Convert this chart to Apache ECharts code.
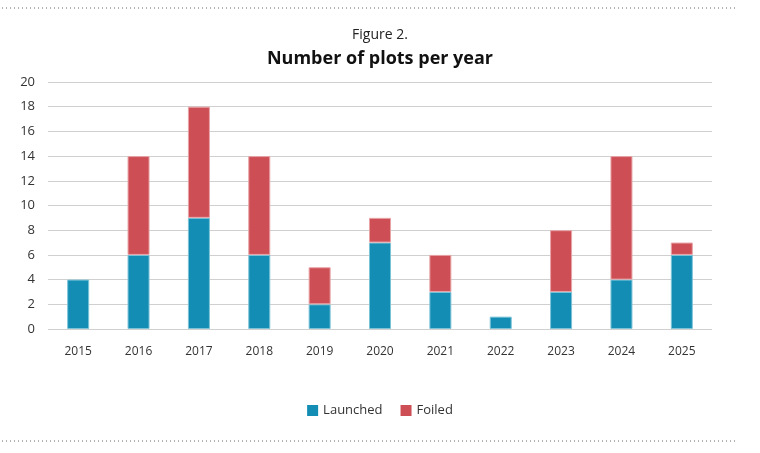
<!DOCTYPE html>
<html>
<head>
<meta charset="utf-8">
<style>
  html, body { margin: 0; padding: 0; background: #fff; }
  #chart { width: 760px; height: 453px; }
</style>
<script src="https://cdn.jsdelivr.net/npm/echarts@6/dist/echarts.min.js"></script>
</head>
<body>
<div id="chart"></div>
<script>
const years = ["2015", "2016", "2017", "2018", "2019", "2020", "2021", "2022", "2023", "2024", "2025"];
const launched = [4, 6, 9, 6, 2, 7, 3, 1, 3, 4, 6];
const foiled = [0, 8, 9, 8, 3, 2, 3, 0, 5, 10, 1];

const font = "'Open Sans', 'Noto Sans', sans-serif";
const chart = echarts.init(document.getElementById("chart"), null, { renderer: "canvas" });

// empty segments should not draw a border line
const noZero = (arr) => arr.map((v) => (v === 0 ? "-" : v));

const option = {
  backgroundColor: "#fff",
  textStyle: { fontFamily: font },
  title: [
    {
      text: "Figure 2.",
      left: "center",
      top: 23,
      textStyle: { fontSize: 14, fontWeight: "normal", color: "#222", fontFamily: font },
    },
    {
      text: "Number of plots per year",
      left: "center",
      top: 45,
      textStyle: { fontSize: 18, fontWeight: "bold", color: "#111", fontFamily: font },
    },
  ],
  legend: {
    bottom: 31,
    left: "center",
    itemWidth: 11,
    itemHeight: 11,
    itemGap: 18,
    icon: "rect",
    itemStyle: { borderWidth: 0 },
    textStyle: { fontSize: 13, color: "#333", fontFamily: font },
    data: ["Launched", "Foiled"],
  },
  grid: { left: 48, right: 48, top: 82, bottom: 124, containLabel: false },
  xAxis: {
    type: "category",
    data: years,
    axisLine: { show: false },
    axisTick: { show: false },
    axisLabel: { color: "#333", fontSize: 12, margin: 17, fontFamily: font },
  },
  yAxis: {
    type: "value",
    min: 0,
    max: 20,
    interval: 2,
    axisLine: { show: false },
    axisTick: { show: false },
    axisLabel: { color: "#333", fontSize: 13, margin: 13, fontFamily: font },
    splitLine: { lineStyle: { color: "#d0d0d0", width: 1 } },
  },
  series: [
    {
      name: "Launched",
      type: "bar",
      stack: "total",
      data: noZero(launched),
      barWidth: 22,
      itemStyle: { color: "#138db3", borderColor: "#7cc3d8", borderWidth: 1 },
    },
    {
      name: "Foiled",
      type: "bar",
      stack: "total",
      data: noZero(foiled),
      barWidth: 22,
      itemStyle: { color: "#cd4e54", borderColor: "#e7a3a6", borderWidth: 1 },
    },
  ],
  graphic: [
    {
      type: "line",
      shape: { x1: 2, y1: 8, x2: 736, y2: 8 },
      style: { stroke: "#666", lineWidth: 1, lineDash: [1, 3] },
    },
    {
      type: "line",
      shape: { x1: 2, y1: 441, x2: 736, y2: 441 },
      style: { stroke: "#666", lineWidth: 1, lineDash: [1, 3] },
    },
  ],
};

chart.setOption(option);

window.addEventListener("resize", function () {
  chart.resize();
});
</script>
</body>
</html>
